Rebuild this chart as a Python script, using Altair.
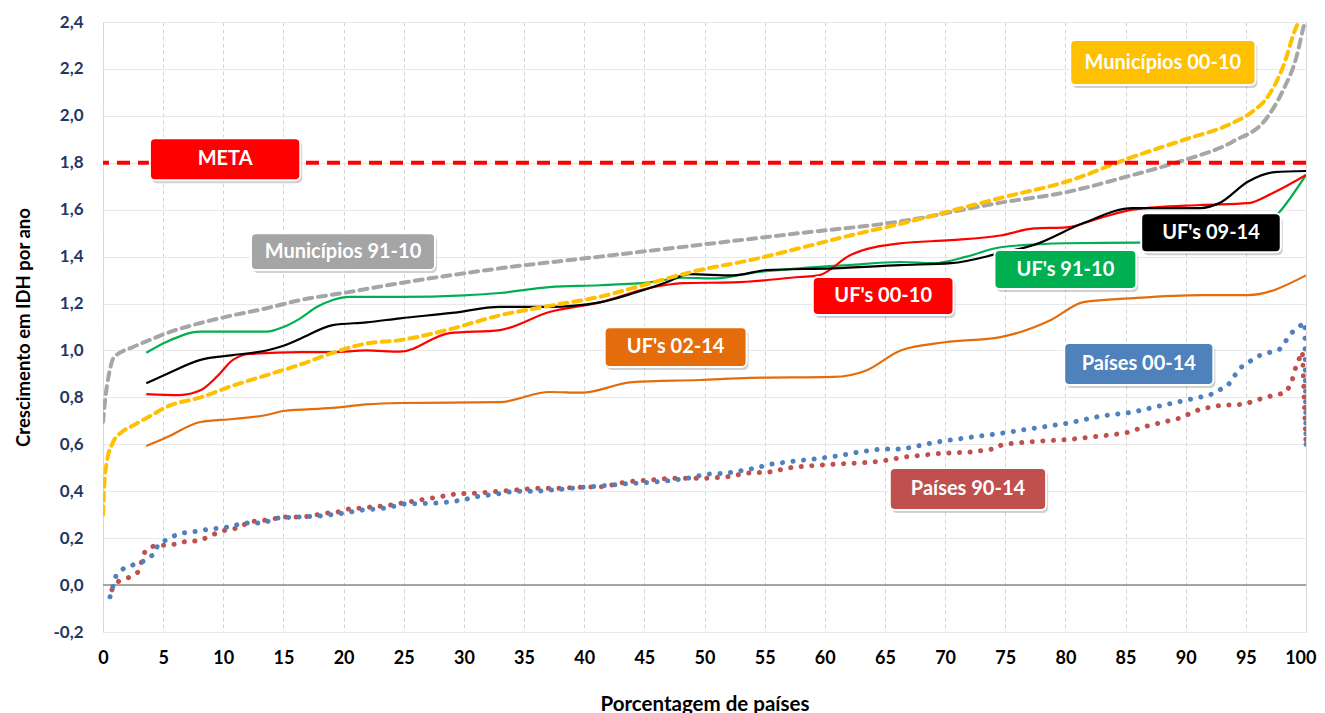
import altair as alt
import pandas as pd

# ---------------- data ----------------
mun0010_x = [0, 0.1, 0.3, 0.8, 1.5, 2.5, 3.9, 5.3, 8.1, 10.8, 13.6, 16.4, 19.1, 21.9, 24.7, 28.8, 33, 37.1,
             41.3, 45.5, 49.6, 53.8, 57.9, 62.1, 66.3, 70.5, 74.6, 80.1, 85.6, 89.8, 93.9, 95.6, 96.8, 98.1, 99.2, 99.6]
mun0010_y = [0.30, 0.42, 0.52, 0.605, 0.65, 0.68, 0.72, 0.76, 0.80, 0.85, 0.895, 0.94, 0.99, 1.03, 1.044, 1.09,
             1.15, 1.19, 1.229, 1.287, 1.343, 1.385, 1.436, 1.49, 1.54, 1.595, 1.65, 1.72, 1.825, 1.897, 1.97,
             2.02, 2.08, 2.21, 2.38, 2.42]

mun9110_x = [0, 0.2, 0.5, 0.9, 2.5, 3.9, 5.3, 8.1, 10.8, 13.6, 16.4, 20, 24.7, 33, 41.3, 49.6, 57.9, 66.3,
             74.6, 80.1, 85.6, 89.8, 93.9, 96.8, 98.1, 99.2, 99.8, 100]
mun9110_y = [0.695, 0.80, 0.90, 0.97, 1.015, 1.045, 1.074, 1.117, 1.15, 1.18, 1.215, 1.245, 1.287, 1.35, 1.40,
             1.45, 1.50, 1.55, 1.63, 1.675, 1.748, 1.81, 1.89, 1.995, 2.11, 2.25, 2.38, 2.42]

uf9110_x = [3.6, 5.3, 8.1, 10.8, 13.6, 15, 16.4, 17.8, 19.1, 20.5, 24.7, 30, 33, 37.1, 41.3, 45.4, 48.2, 51,
            53.8, 57.9, 62, 66.3, 69, 71.8, 74.6, 80.1, 86, 91, 95, 97.8, 100]
uf9110_y = [0.99, 1.037, 1.08, 1.08, 1.08, 1.10, 1.137, 1.186, 1.215, 1.228, 1.228, 1.235, 1.245, 1.27, 1.278,
            1.29, 1.31, 1.307, 1.33, 1.35, 1.364, 1.377, 1.372, 1.40, 1.44, 1.457, 1.46, 1.46, 1.47, 1.59, 1.748]

uf0914_x = [3.6, 5.3, 8.1, 10.8, 13.6, 15, 16.4, 19.1, 21.9, 24.7, 29, 33, 37.1, 41.3, 44, 46.8, 48.7, 52.4,
            55.2, 60.7, 66.3, 70.5, 74.6, 77.4, 81.5, 85.6, 91.2, 92.8, 95.2, 97.4, 100]
uf0914_y = [0.86, 0.90, 0.96, 0.98, 1.0, 1.02, 1.05, 1.108, 1.12, 1.137, 1.16, 1.186, 1.186, 1.205, 1.243,
            1.29, 1.325, 1.32, 1.343, 1.35, 1.364, 1.372, 1.415, 1.45, 1.543, 1.607, 1.607, 1.628, 1.72, 1.76, 1.765]

uf0010_x = [3.6, 6.4, 8.1, 9.5, 10.8, 12.2, 16.4, 19.1, 21.9, 24.7, 28.8, 33, 37.1, 41.3, 45.4, 48.2, 52.4,
            57.9, 59.5, 62.1, 66.3, 70.5, 74.6, 77.4, 80.1, 82.9, 85.6, 91.2, 95.2, 97.2, 100]
uf0010_y = [0.814, 0.81, 0.83, 0.89, 0.96, 0.985, 0.993, 0.993, 1.0, 0.995, 1.074, 1.087, 1.164, 1.205, 1.266,
            1.287, 1.29, 1.313, 1.32, 1.406, 1.457, 1.47, 1.49, 1.52, 1.525, 1.565, 1.6, 1.62, 1.628, 1.67, 1.748]

uf0214_x = [3.6, 5.3, 8.1, 10.8, 13.6, 15, 19.1, 21.9, 24.7, 33, 37.1, 39.8, 44, 49.6, 53.8, 60.7, 63.5, 66.3,
            70, 74.6, 78.8, 81.5, 85.6, 91.2, 95.2, 100]
uf0214_y = [0.593, 0.63, 0.695, 0.708, 0.725, 0.742, 0.755, 0.77, 0.776, 0.78, 0.823, 0.82, 0.865, 0.874, 0.883,
            0.887, 0.916, 1.0, 1.035, 1.057, 1.13, 1.206, 1.223, 1.236, 1.236, 1.32]

pais0014_x = [0.58, 0.83, 1.1, 1.7, 2.7, 3.3, 4.2, 4.6, 5.4, 6.2, 7.1, 8, 8.9, 9.8, 10.7, 11.6, 13.4, 14.3,
              16.1, 18, 19.9, 21.6, 23.5, 24.9, 28, 29.9, 30.8, 32.7, 34.2, 36.1, 38, 39.8, 41.7, 43.5, 45.3,
              47.1, 48.9, 50.1, 51.7, 53.8, 55.6, 57.4, 59.2, 61, 62.8, 64.7, 66.5, 69.3, 72.1, 74.8, 77.6, 80.2,
              82.9, 85.6, 88.4, 90.2, 92, 93.5, 94.5, 96, 97.8, 98.9, 99.9, 100]
pais0014_y = [-0.05, -0.004, 0.043, 0.07, 0.09, 0.10, 0.13, 0.175, 0.196, 0.217, 0.226, 0.23, 0.24, 0.243, 0.25,
              0.265, 0.265, 0.285, 0.29, 0.294, 0.306, 0.32, 0.328, 0.345, 0.35, 0.362, 0.375, 0.388, 0.40, 0.40,
              0.408, 0.417, 0.424, 0.432, 0.437, 0.445, 0.458, 0.473, 0.476, 0.494, 0.516, 0.528, 0.538, 0.55,
              0.567, 0.58, 0.58, 0.61, 0.63, 0.648, 0.67, 0.69, 0.72, 0.737, 0.77, 0.79, 0.81, 0.85, 0.925,
              0.976, 1.005, 1.08, 1.12, 0.59]

pais9014_x = [0.75, 1.3, 2.2, 2.9, 3.2, 3.5, 4.2, 5.2, 6.1, 7, 7.9, 8.7, 9.6, 10.5, 11.3, 12.1, 13, 14, 14.9,
              16.7, 17.6, 18.5, 19.5, 20.4, 21.3, 22.3, 23.2, 24.1, 24.9, 27.8, 29.5, 30.5, 32.3, 34.2, 36.1, 38,
              39.8, 41.7, 43.5, 45.3, 47.1, 48.9, 49.9, 51.7, 53.6, 55.4, 57.4, 59.2, 61, 62.8, 64.7, 66.5, 69.3,
              72.1, 74, 74.8, 77.6, 80.2, 82.9, 85, 86.8, 89.4, 91.2, 93, 94.8, 96.6, 98.3, 98.8, 99, 99.3, 99.7, 100]
pais9014_y = [-0.02, 0.016, 0.033, 0.055, 0.098, 0.145, 0.166, 0.17, 0.175, 0.188, 0.188, 0.204, 0.226, 0.238,
              0.243, 0.27, 0.273, 0.28, 0.29, 0.29, 0.298, 0.306, 0.311, 0.324, 0.328, 0.333, 0.337, 0.342, 0.35,
              0.375, 0.39, 0.39, 0.397, 0.405, 0.413, 0.413, 0.417, 0.42, 0.44, 0.447, 0.455, 0.455, 0.455, 0.46,
              0.477, 0.482, 0.503, 0.51, 0.516, 0.52, 0.528, 0.545, 0.56, 0.567, 0.58, 0.60, 0.613, 0.62, 0.635,
              0.648, 0.678, 0.71, 0.75, 0.767, 0.77, 0.80, 0.82, 0.86, 0.905, 0.95, 0.995, 0.6]

meta_value = [1.8]

# label boxes (data coordinates)
box_labels = ["META", "Municípios 91-10", "UF's 02-14", "UF's 00-10", "Municípios 00-10",
              "UF's 91-10", "UF's 09-14", "Países 00-14", "Países 90-14"]
box_x1 = [3.9, 12.3, 41.7, 59.0, 80.4, 74.1, 86.3, 79.9, 65.4]
box_x2 = [16.4, 27.6, 53.5, 70.7, 95.8, 85.9, 97.9, 92.3, 78.4]
box_y1 = [1.726, 1.343, 0.929, 1.151, 2.131, 1.262, 1.419, 0.853, 0.320]
box_y2 = [1.905, 1.500, 1.099, 1.313, 2.323, 1.428, 1.585, 1.032, 0.499]
box_colors = ["#FF0000", "#A5A5A5", "#E46C0A", "#FF0000", "#FFC000", "#00B050", "#000000", "#4F81BD", "#C0504D"]

# ---------------- build tables ----------------
def series(name, xs, ys):
    return pd.DataFrame({"serie": name, "x": xs, "y": ys, "ord": range(len(xs))})

df = pd.concat([
    series("mun0010", mun0010_x, mun0010_y),
    series("mun9110", mun9110_x, mun9110_y),
    series("uf9110", uf9110_x, uf9110_y),
    series("uf0914", uf0914_x, uf0914_y),
    series("uf0010", uf0010_x, uf0010_y),
    series("uf0214", uf0214_x, uf0214_y),
    series("pais0014", pais0014_x, pais0014_y),
    series("pais9014", pais9014_x, pais9014_y),
], ignore_index=True)

boxes = pd.DataFrame({"label": box_labels, "x1": box_x1, "x2": box_x2, "y1": box_y1, "y2": box_y2,
                      "color": box_colors})
boxes["xc"] = (boxes["x1"] + boxes["x2"]) / 2
boxes["yc"] = (boxes["y1"] + boxes["y2"]) / 2

FONT = "Lato"

xscale = alt.Scale(domain=[0, 100], nice=False, zero=False)
yscale = alt.Scale(domain=[-0.2, 2.4], nice=False, zero=False)

X = alt.X("x:Q", scale=xscale,
          axis=alt.Axis(values=list(range(0, 101, 5)), title="Porcentagem de países",
                        grid=True, gridDash=[4, 3], gridColor="#D4D4D4", gridWidth=1,
                        domain=False, ticks=False, labelFontSize=18, labelFont=FONT, labelFontWeight="bold",
                        labelColor="#000000", labelPadding=17, titleFont=FONT, titleFontSize=20.5,
                        titleFontWeight="bold", titleColor="#000000", titlePadding=27, labelFlush=False,
                        labelAlign=alt.condition("datum.value == 100", alt.value("right"), alt.value("center")),
                        labelOffset=alt.condition("datum.value == 100", alt.value(10), alt.value(0))))
Y = alt.Y("y:Q", scale=yscale,
          axis=alt.Axis(values=[round(-0.2 + 0.2 * i, 1) for i in range(14)], title="Crescimento em IDH por ano",
                        grid=True, gridColor="#E8E8E8", gridWidth=1,
                        domain=False, ticks=False, labelFontSize=17, labelFont=FONT, labelFontWeight="bold",
                        labelColor="#1F3864", labelPadding=20,
                        labelExpr="replace(replace(format(datum.value, '.1f'), '.', ','), '\u2212', '-')",
                        titleFont=FONT, titleFontSize=18.5, titleFontWeight="bold", titleColor="#000000",
                        titlePadding=19))

base = alt.Chart(df)

def line_layer(name, color, width, dash=None, cap="butt", interp="monotone"):
    kw = dict(color=color, strokeWidth=width, strokeCap=cap, interpolate=interp, clip=True)
    if dash is not None:
        kw["strokeDash"] = dash
    return base.transform_filter(alt.datum.serie == name).mark_line(**kw).encode(
        x=X, y=Y, order="ord:Q")

zero_rule = alt.Chart(pd.DataFrame({"y": [0.0]})).mark_rule(color="#8C8C8C", strokeWidth=1.5).encode(
    y=alt.Y("y:Q", scale=yscale))

meta_rule = alt.Chart(pd.DataFrame({"y": meta_value})).mark_rule(
    color="#FF0000", strokeWidth=4, strokeDash=[13, 8]).encode(y=alt.Y("y:Q", scale=yscale))

lines = [
    line_layer("pais9014", "#C0504D", 5, dash=[0.1, 10.5], cap="round", interp="linear"),
    line_layer("pais0014", "#4F81BD", 5, dash=[0.1, 10.5], cap="round", interp="linear"),
    line_layer("uf0214", "#E46C0A", 2.2),
    line_layer("uf9110", "#00B050", 2.2),
    line_layer("uf0010", "#FF0000", 2.2),
    line_layer("uf0914", "#000000", 2.2),
    line_layer("mun9110", "#A6A6A6", 4, dash=[8, 6], cap="round"),
    line_layer("mun0010", "#FFC000", 4, dash=[8, 6], cap="round"),
]

bx = alt.Chart(boxes)
shadow = bx.mark_rect(cornerRadius=5, color="#000000", opacity=0.18, xOffset=2, x2Offset=2,
                      yOffset=3, y2Offset=3).encode(
    x=alt.X("x1:Q", scale=xscale), x2="x2:Q", y=alt.Y("y1:Q", scale=yscale), y2="y2:Q")
rects = bx.mark_rect(cornerRadius=5, stroke="#FFFFFF", strokeWidth=2).encode(
    x=alt.X("x1:Q", scale=xscale), x2="x2:Q", y=alt.Y("y1:Q", scale=yscale), y2="y2:Q",
    color=alt.Color("color:N", scale=None))
texts = bx.mark_text(color="#FFFFFF", font=FONT, fontWeight="bold", fontSize=20, baseline="middle",
                     align="center").encode(
    x=alt.X("xc:Q", scale=xscale), y=alt.Y("yc:Q", scale=yscale), text="label:N")

chart = alt.layer(zero_rule, *lines, meta_rule, shadow, rects, texts).properties(
    width=1203, height=610,
    autosize=alt.AutoSizeParams(type="none"),
    padding={"left": 95, "top": 14, "right": 11, "bottom": 81},
).configure_view(fill="#F5F5F5", stroke="#D9D9D9", strokeWidth=2).configure(background="#FFFFFF")

chart.save("out.html", embed_options={"renderer": "svg", "actions": False})
